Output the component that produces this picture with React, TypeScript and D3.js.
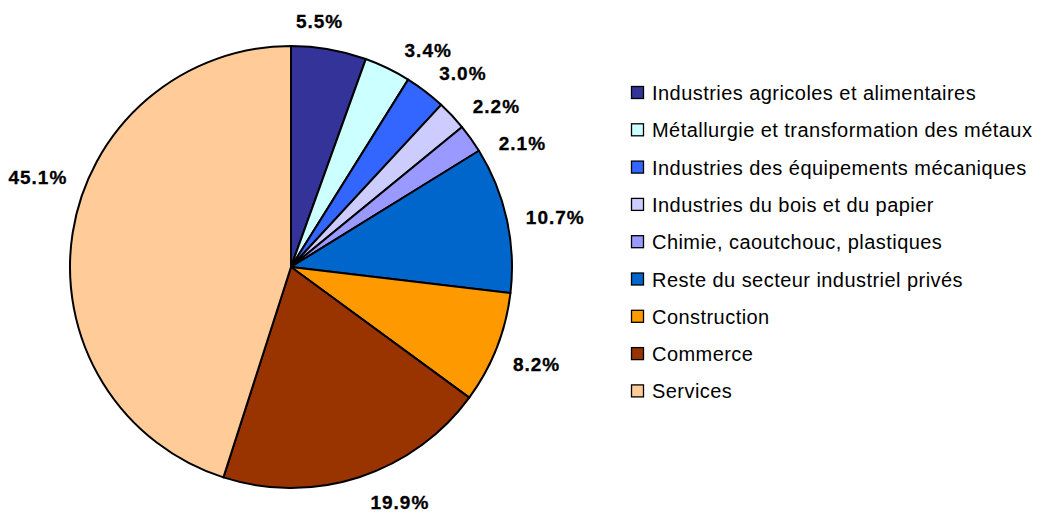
import React, { useEffect, useRef } from 'react';
import * as d3 from 'd3';

const sectors = [
  'Industries agricoles et alimentaires',
  'Métallurgie et transformation des métaux',
  'Industries des équipements mécaniques',
  'Industries du bois et du papier',
  'Chimie, caoutchouc, plastiques',
  'Reste du secteur industriel privés',
  'Construction',
  'Commerce',
  'Services',
];
const shares = [5.5, 3.4, 3.0, 2.2, 2.1, 10.7, 8.2, 19.9, 45.1];
const colors = ['#333399', '#CCFFFF', '#3366FF', '#CCCCFF', '#9999FF', '#0066CC', '#FF9900', '#993300', '#FFCC99'];

// manual label nudges (degrees), like Excel's moved labels
const labelShift = [-3.3, 6.3, 4.0, 4.9, 7.1, 1.5, -0.2, -7.0, 10.9];

const W = 1042;
const H = 514;

const App: React.FC = () => {
  const svgRef = useRef<SVGSVGElement>(null);

  useEffect(() => {
    if (!svgRef.current) return;
    const svg = d3.select(svgRef.current);
    svg.selectAll('*').remove();

    const cx = 291, cy = 267, r = 221;
    const font = 'Arial, "Liberation Sans", sans-serif';

    const pie = d3.pie<number>().sort(null).value(d => d);
    const arcs = pie(shares);
    const arc = d3.arc<d3.PieArcDatum<number>>().innerRadius(0).outerRadius(r);

    const g = svg.append('g').attr('transform', `translate(${cx},${cy})`);

    g.selectAll('path')
      .data(arcs)
      .enter()
      .append('path')
      .attr('d', arc)
      .attr('fill', (d, i) => colors[i])
      .attr('stroke', '#000')
      .attr('stroke-width', 2)
      .attr('stroke-linejoin', 'round');

    // labels
    arcs.forEach((d, i) => {
      const mid = (d.startAngle + d.endAngle) / 2 + (labelShift[i] * Math.PI) / 180;
      const txt = d.data.toFixed(1) + '%';
      const t = g.append('text')
        .attr('font-family', font)
        .attr('font-weight', 'bold')
        .attr('font-size', 19)
        .attr('letter-spacing', 1)
        .attr('fill', '#000')
        .attr('stroke', '#000')
        .attr('stroke-width', 0.3)
        .attr('text-anchor', 'middle')
        .attr('dominant-baseline', 'central')
        .text(txt);
      const w = (t.node() as SVGTextElement).getComputedTextLength();
      const h = 14;
      const s = Math.sin(mid), c = -Math.cos(mid);
      const ext = Math.abs(s) * w / 2 + Math.abs(c) * h / 2;
      const dist = r + 18 + ext;
      t.attr('x', s * dist).attr('y', c * dist + 1.5);
    });

    // legend
    const lg = svg.append('g').attr('transform', 'translate(631,92)');
    const row = lg.selectAll('g')
      .data(sectors)
      .enter()
      .append('g')
      .attr('transform', (d, i) => `translate(0,${i * 37.3})`);
    row.append('rect')
      .attr('x', 0.5)
      .attr('y', -5.5)
      .attr('width', 12)
      .attr('height', 12)
      .attr('fill', (d, i) => colors[i])
      .attr('stroke', '#000')
      .attr('stroke-width', 1.3);
    row.append('text')
      .attr('x', 21)
      .attr('y', 1)
      .attr('dominant-baseline', 'central')
      .attr('font-family', font)
      .attr('font-size', 20)
      .attr('letter-spacing', 0.45)
      .attr('fill', '#000')
      .text(d => d);
  }, []);

  return (
    <svg
      ref={svgRef}
      width={W}
      height={H}
      style={{ position: 'absolute', left: 0, top: 0, background: '#fff' }}
    />
  );
};

export default App;
